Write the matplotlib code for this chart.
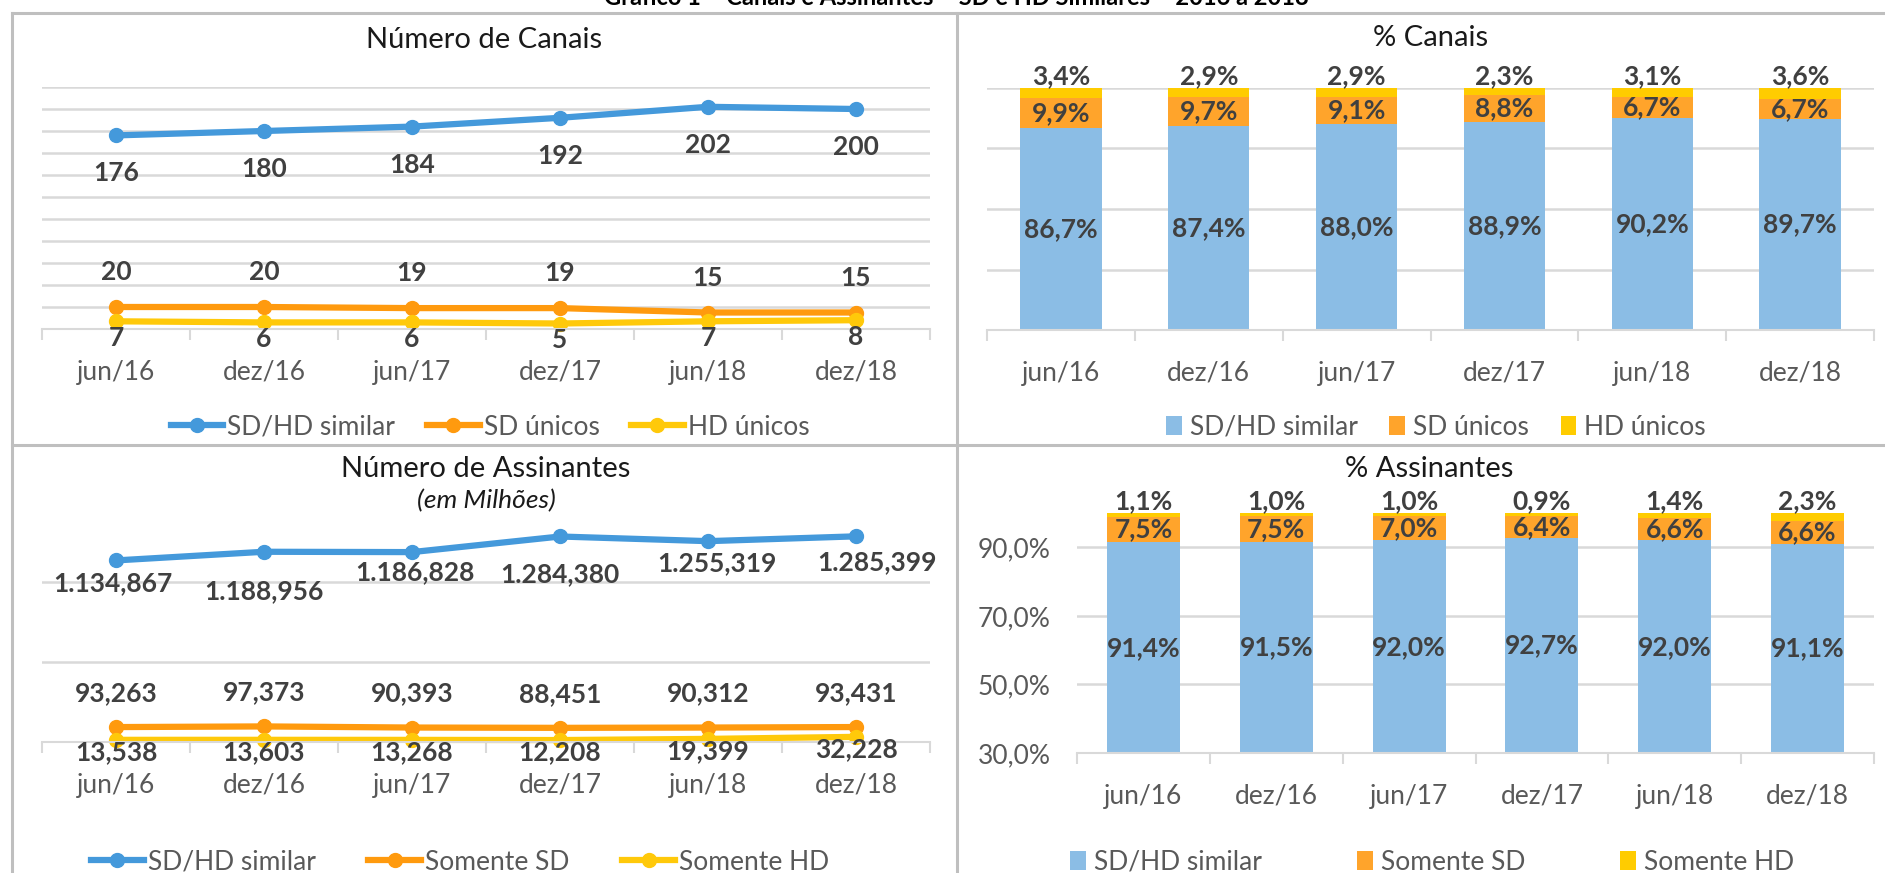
import matplotlib
matplotlib.use("Agg")
import matplotlib.pyplot as plt
from matplotlib.lines import Line2D
import numpy as np

# data
periods = ["jun/16", "dez/16", "jun/17", "dez/17", "jun/18", "dez/18"]

canais_sdhd = [176, 180, 184, 192, 202, 200]
canais_sd = [20, 20, 19, 19, 15, 15]
canais_hd = [7, 6, 6, 5, 7, 8]

# subscribers, shown as "1.134,867" etc.
assin_sdhd = [1134.867, 1188.956, 1186.828, 1284.380, 1255.319, 1285.399]
assin_sd = [93.263, 97.373, 90.393, 88.451, 90.312, 93.431]
assin_hd = [13.538, 13.603, 13.268, 12.208, 19.399, 32.228]

pct_canais_sdhd = [86.7, 87.4, 88.0, 88.9, 90.2, 89.7]
pct_canais_sd = [9.9, 9.7, 9.1, 8.8, 6.7, 6.7]
pct_canais_hd = [3.4, 2.9, 2.9, 2.3, 3.1, 3.6]

pct_assin_sdhd = [91.4, 91.5, 92.0, 92.7, 92.0, 91.1]
pct_assin_sd = [7.5, 7.5, 7.0, 6.4, 6.6, 6.6]
pct_assin_hd = [1.1, 1.0, 1.0, 0.9, 1.4, 2.3]

# colours
BLUE_LINE, ORANGE_LINE, YELLOW_LINE = "#4499DB", "#FF9A0E", "#FFC90A"
BLUE_BAR, ORANGE_BAR, YELLOW_BAR = "#8BBDE5", "#FFA42B", "#FFCC00"
LABEL = "#404040"
TICK = "#595959"
GRID = "#D9D9D9"
BORDER = "#BFBFBF"

W, H = 1885, 873
plt.rcParams['font.family'] = ['Lato', 'DejaVu Sans']

fig = plt.figure(figsize=(W / 100, H / 100), dpi=100)


def rect(x0, y0, x1, y1):
    """pixel box (top-left origin) -> figure fraction rect"""
    return [x0 / W, 1 - y1 / H, (x1 - x0) / W, (y1 - y0) / H]


def fxy(x, y):
    return (x / W, 1 - y / H)


def br_num(v):
    return f"{v:,.3f}".replace(",", "X").replace(".", ",").replace("X", ".")


def br_pct(v):
    return f"{v:.1f}%".replace(".", ",")


def style_axes(ax, yticks, ylim):
    for s in ["left", "right", "top"]:
        ax.spines[s].set_visible(False)
    ax.spines["bottom"].set_color(GRID)
    ax.spines["bottom"].set_linewidth(1.5)
    ax.set_xlim(-0.5, 5.5)
    ax.set_ylim(*ylim)
    ax.set_yticks(yticks)
    ax.yaxis.grid(True, color=GRID, linewidth=1.8)
    ax.set_axisbelow(True)
    ax.tick_params(axis="y", length=0, labelleft=False)
    ax.set_xticks(range(len(periods)))
    ax.set_xticklabels(periods, fontsize=19, color=TICK)
    ax.set_xticks(np.arange(-0.5, 6, 1), minor=True)
    ax.tick_params(axis="x", which="major", length=0, pad=22)
    ax.tick_params(axis="x", which="minor", length=8, width=1.5, color=GRID)
    ax.patch.set_alpha(0)


def add_label(ax, x, y, text, dx_px, dy_px):
    ax.annotate(text, (x, y), xytext=(dx_px * 0.72, dy_px * 0.72),
                textcoords="offset points", ha="center", va="center",
                fontsize=19, fontweight="bold", color=LABEL)


x = np.arange(len(periods))

# ---- top-left: Número de Canais ----
ax1 = fig.add_axes(rect(42, 87, 930, 329))
style_axes(ax1, np.arange(0, 221, 20), (0, 220))
ax1.plot(x, canais_sdhd, color=BLUE_LINE, lw=4.5, marker="o", ms=10, label="SD/HD similar")
ax1.plot(x, canais_sd, color=ORANGE_LINE, lw=4.5, marker="o", ms=10, label="SD únicos")
ax1.plot(x, canais_hd, color=YELLOW_LINE, lw=4.5, marker="o", ms=10, label="HD únicos")
for i in x:
    add_label(ax1, i, canais_sdhd[i], str(canais_sdhd[i]), 0, -38)
    add_label(ax1, i, canais_sd[i], str(canais_sd[i]), 0, 35)
    add_label(ax1, i, canais_hd[i], str(canais_hd[i]), 0, -17)
for c in ax1.lines:
    c.set_clip_on(False)
ax1.legend(loc="center", bbox_to_anchor=fxy(490, 427), bbox_transform=fig.transFigure,
           ncol=3, frameon=False, fontsize=19, handlelength=2.0, handletextpad=0.15,
           columnspacing=1.2, labelcolor=TICK)

# ---- bottom-left: Número de Assinantes ----
ax3 = fig.add_axes(rect(42, 518, 930, 742))
style_axes(ax3, [0, 500, 1000], (0, 1400))
ax3.plot(x, assin_sdhd, color=BLUE_LINE, lw=4.5, marker="o", ms=10, label="SD/HD similar")
ax3.plot(x, assin_sd, color=ORANGE_LINE, lw=4.5, marker="o", ms=10, label="Somente SD")
ax3.plot(x, assin_hd, color=YELLOW_LINE, lw=4.5, marker="o", ms=10, label="Somente HD")
blue_shift = [(-3, -23), (0, -39), (3, -20), (0, -38), (9, -22), (21, -26)]
for i in x:
    add_label(ax3, i, assin_sdhd[i], br_num(assin_sdhd[i]), *blue_shift[i])
    add_label(ax3, i, assin_sd[i], br_num(assin_sd[i]), 0, 34)
    add_label(ax3, i, assin_hd[i], br_num(assin_hd[i]), 0, -12)
for c in ax3.lines:
    c.set_clip_on(False)
ax3.legend(loc="center", bbox_to_anchor=fxy(460, 862), bbox_transform=fig.transFigure,
           ncol=3, frameon=False, fontsize=19, handlelength=2.0, handletextpad=0.15,
           columnspacing=2.0, labelcolor=TICK)


def stacked(ax, sdhd, sd, hd, names, ymin):
    sdhd, sd, hd = np.array(sdhd), np.array(sd), np.array(hd)
    ax.bar(x, sdhd, width=0.55, color=BLUE_BAR, label=names[0])
    ax.bar(x, sd, width=0.55, bottom=sdhd, color=ORANGE_BAR, label=names[1])
    ax.bar(x, hd, width=0.55, bottom=sdhd + sd, color=YELLOW_BAR, label=names[2])
    for i in x:
        add_label(ax, i, (ymin + sdhd[i]) / 2, br_pct(sdhd[i]), 0, 0)
        add_label(ax, i, sdhd[i] + sd[i] / 2, br_pct(sd[i]), 0, 0)
        ax.annotate(br_pct(hd[i]), (i, sdhd[i] + sd[i] + hd[i]), xytext=(0, 0),
                    textcoords="offset points", ha="center", va="bottom",
                    fontsize=19, fontweight="bold", color=LABEL)


# ---- top-right: % Canais ----
ax2 = fig.add_axes(rect(987, 88, 1874, 330))
style_axes(ax2, [20, 40, 60, 80, 100], (20, 100))
stacked(ax2, pct_canais_sdhd, pct_canais_sd, pct_canais_hd,
        ["SD/HD similar", "SD únicos", "HD únicos"], 20)
ax2.legend(loc="center", bbox_to_anchor=fxy(1436, 427), bbox_transform=fig.transFigure,
           ncol=3, frameon=False, fontsize=19, handlelength=0.6, handleheight=0.7,
           handletextpad=0.3, columnspacing=1.2, labelcolor=TICK)

# ---- bottom-right: % Assinantes ----
ax4 = fig.add_axes(rect(1077, 513, 1874, 753))
style_axes(ax4, [30, 50, 70, 90], (30, 100))
ax4.tick_params(axis="y", labelleft=True, labelsize=19, labelcolor=TICK, pad=19)
ax4.set_yticklabels([br_pct(v) for v in [30, 50, 70, 90]])
stacked(ax4, pct_assin_sdhd, pct_assin_sd, pct_assin_hd,
        ["SD/HD similar", "Somente SD", "Somente HD"], 30)
ax4.legend(loc="center", bbox_to_anchor=fxy(1432, 862), bbox_transform=fig.transFigure,
           ncol=3, frameon=False, fontsize=19, handlelength=0.6, handleheight=0.7,
           handletextpad=0.3, columnspacing=3.6, labelcolor=TICK)

# ---- titles ----
fig.text(*fxy(484, 40), "Número de Canais", ha="center", va="center", fontsize=21, color="#1a1a1a")
fig.text(*fxy(1431, 38), "% Canais", ha="center", va="center", fontsize=21, color="#1a1a1a")
fig.text(*fxy(486, 469), "Número de Assinantes", ha="center", va="center", fontsize=21, color="#1a1a1a")
fig.text(*fxy(486, 501), "(em Milhões)", ha="center", va="center", fontsize=19,
         style="italic", color="#1a1a1a")
fig.text(*fxy(1429, 469), "% Assinantes", ha="center", va="center", fontsize=21, color="#1a1a1a")
# the reference crops this heading at the top edge, only its lower part shows
fig.text(*fxy(956, 5), "Gráfico 1 – Canais e Assinantes – SD e HD Similares – 2016 a 2018",
         ha="center", va="baseline", fontsize=17, fontweight="bold", color="#000000")

# ---- panel borders ----
for (xa, ya, xb, yb) in [(12, 13, 12, 873), (12, 13, 1885, 13), (957, 13, 957, 873),
                         (12, 445, 1885, 445)]:
    fig.add_artist(Line2D([xa / W, xb / W], [1 - ya / H, 1 - yb / H],
                          transform=fig.transFigure, color=BORDER, lw=2.2))

fig.savefig("out.png", dpi=100)
